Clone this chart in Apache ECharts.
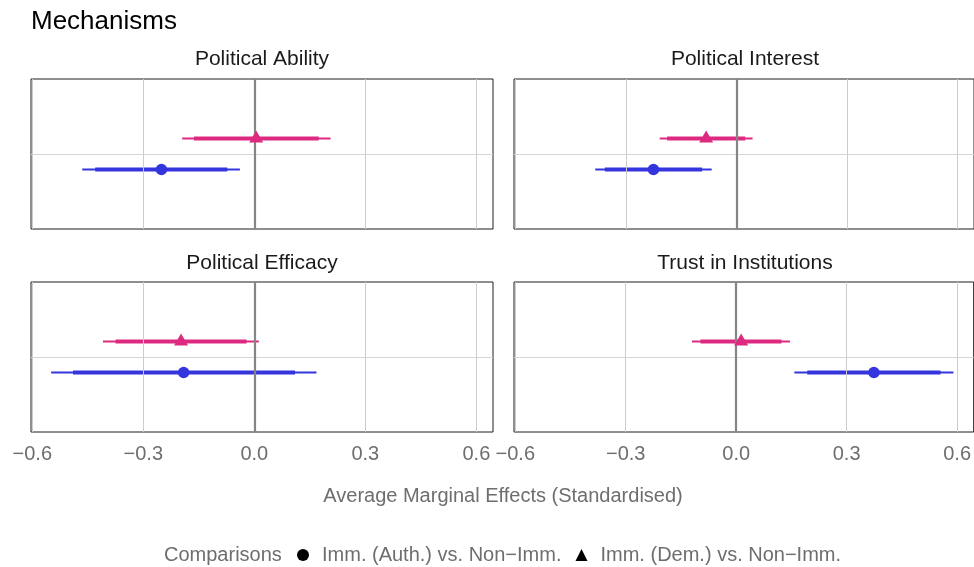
<!DOCTYPE html>
<html>
<head>
<meta charset="utf-8">
<script src="https://cdn.jsdelivr.net/npm/echarts@6/dist/echarts.min.js"></script>
<style>html,body{margin:0;padding:0;background:#fff}#c{width:974px;height:567px}</style>
</head>
<body>
<div id="c"></div>
<script>
const panels = ['Political Ability', 'Political Interest', 'Political Efficacy', 'Trust in Institutions'];
const seriesNames = ['Imm. (Auth.) vs. Non\u2212Imm.', 'Imm. (Dem.) vs. Non\u2212Imm.'];
const authEst  = [-0.251, -0.225, -0.191, 0.374];
const authLo95 = [-0.465, -0.383, -0.549, 0.158];
const authHi95 = [-0.039, -0.067, 0.168, 0.590];
const authLo90 = [-0.430, -0.357, -0.490, 0.193];
const authHi90 = [-0.073, -0.093, 0.110, 0.555];
const demEst   = [0.005, -0.082, -0.198, 0.0135];
const demLo95  = [-0.195, -0.208, -0.409, -0.120];
const demHi95  = [0.206, 0.044, 0.012, 0.146];
const demLo90  = [-0.163, -0.188, -0.375, -0.097];
const demHi90  = [0.174, 0.024, -0.021, 0.123];
const xTicks = [-0.6, -0.3, 0.0, 0.3, 0.6];

const DODGE = 0.207;
const BLUE = '#3535dd', PINK = '#dd2a80';
const FONT = 'Liberation Sans, Arial, sans-serif';
const GL = [31, 514], GT = [79, 282], GW = 462, GH = 150;
const TITLE_UP = [30.5, 29.5];
const XMIN = -0.6035, XMAX = 0.645;

const fmt = v => (v < 0 ? '\u2212' : '') + Math.abs(v).toFixed(1);

const grids = [], xAxes = [], yAxes = [], series = [], titles = [];
titles.push({text: 'Mechanisms', left: 31, top: 9, padding: 0, textStyle: {fontFamily: FONT, fontSize: 26, fontWeight: 'normal', color: '#000'}});

panels.forEach((p, i) => {
  const col = i % 2, row = Math.floor(i / 2);
  const bottom = row === 1;
  grids.push({left: GL[col], top: GT[row], width: GW, height: GH, show: true, borderColor: '#1e1e1e', borderWidth: 1, backgroundColor: '#fff', containLabel: false});
  titles.push({text: p, left: GL[col] + GW / 2, top: GT[row] - TITLE_UP[row], textAlign: 'center', padding: 0,
    textStyle: {fontFamily: FONT, fontSize: 21, fontWeight: 'normal', color: '#1a1a1a'}});
  xAxes.push({type: 'value', gridIndex: i, min: XMIN, max: XMAX,
    axisLine: {show: false}, splitLine: {show: false},
    axisTick: {show: bottom, customValues: xTicks, length: 4, lineStyle: {color: '#c8c8c8'}},
    axisLabel: {show: bottom, customValues: xTicks, formatter: fmt, margin: 12, fontFamily: FONT, fontSize: 20, color: '#6e6e6e'}});
  yAxes.push({type: 'value', gridIndex: i, min: -1, max: 1,
    axisLine: {show: false}, splitLine: {show: false}, axisLabel: {show: false},
    axisTick: {show: true, customValues: [0], length: 7, lineStyle: {color: '#d6d6d6'}}});

  const gridLines = xTicks.map(v => ({xAxis: v, lineStyle: v === 0 ? {color: '#858585', width: 2.2, type: 'solid'} : {color: '#cdcdcd', width: 1, type: 'solid'}}));
  gridLines.unshift({yAxis: 0, lineStyle: {color: '#d6d6d6', width: 1, type: 'solid'}});
  series.push({type: 'scatter', xAxisIndex: i, yAxisIndex: i, data: [], silent: true, z: 1,
    markLine: {silent: true, symbol: 'none', label: {show: false}, animation: false, data: gridLines}});

  const seg = (lo, hi, y, color, w, z) => ({
    type: 'custom', xAxisIndex: i, yAxisIndex: i, z: z, silent: true,
    encode: {x: [0, 1], y: 2},
    data: [[lo, hi, y]],
    renderItem: (params, api) => {
      const a = api.coord([api.value(0), api.value(2)]);
      const b = api.coord([api.value(1), api.value(2)]);
      return {type: 'line', shape: {x1: a[0], y1: a[1], x2: b[0], y2: b[1]}, style: {stroke: color, lineWidth: w}};
    }
  });
  series.push(seg(authLo95[i], authHi95[i], -DODGE, BLUE, 2, 3));
  series.push(seg(authLo90[i], authHi90[i], -DODGE, BLUE, 4, 4));
  series.push(seg(demLo95[i], demHi95[i], DODGE, PINK, 2, 3));
  series.push(seg(demLo90[i], demHi90[i], DODGE, PINK, 4, 4));
  series.push({type: 'scatter', name: seriesNames[0], xAxisIndex: i, yAxisIndex: i, z: 5,
    symbol: 'circle', symbolSize: 11.5, itemStyle: {color: BLUE, opacity: 1},
    data: [[authEst[i], -DODGE]]});
  series.push({type: 'scatter', name: seriesNames[1], xAxisIndex: i, yAxisIndex: i, z: 5,
    symbol: 'triangle', symbolSize: [14, 12], symbolOffset: [0, -2], itemStyle: {color: PINK, opacity: 1},
    data: [[demEst[i], DODGE]]});
});

titles.push({text: 'Average Marginal Effects (Standardised)', left: 503, top: 486, textAlign: 'center', padding: 0,
  textStyle: {fontFamily: FONT, fontSize: 20, fontWeight: 'normal', color: '#6e6e6e'}});
titles.push({text: 'Comparisons', left: 164, top: 545, padding: 0,
  textStyle: {fontFamily: FONT, fontSize: 20, fontWeight: 'normal', color: '#6e6e6e'}});

const chart = echarts.init(document.getElementById('c'), null, {renderer: 'canvas'});
chart.setOption({
  animation: false,
  backgroundColor: '#fff',
  title: titles,
  grid: grids,
  xAxis: xAxes,
  yAxis: yAxes,
  legend: {
    left: 297, top: 545, padding: 0, itemWidth: 12, itemHeight: 12, itemGap: 14,
    selectedMode: false,
    textStyle: {fontFamily: FONT, fontSize: 20, color: '#6e6e6e', padding: [0, 0, 0, 8]},
    data: [
      {name: seriesNames[0], icon: 'circle', itemStyle: {color: '#000'}},
      {name: seriesNames[1], icon: 'triangle', itemStyle: {color: '#000'}}
    ]
  },
  series: series
});
</script>
</body>
</html>
